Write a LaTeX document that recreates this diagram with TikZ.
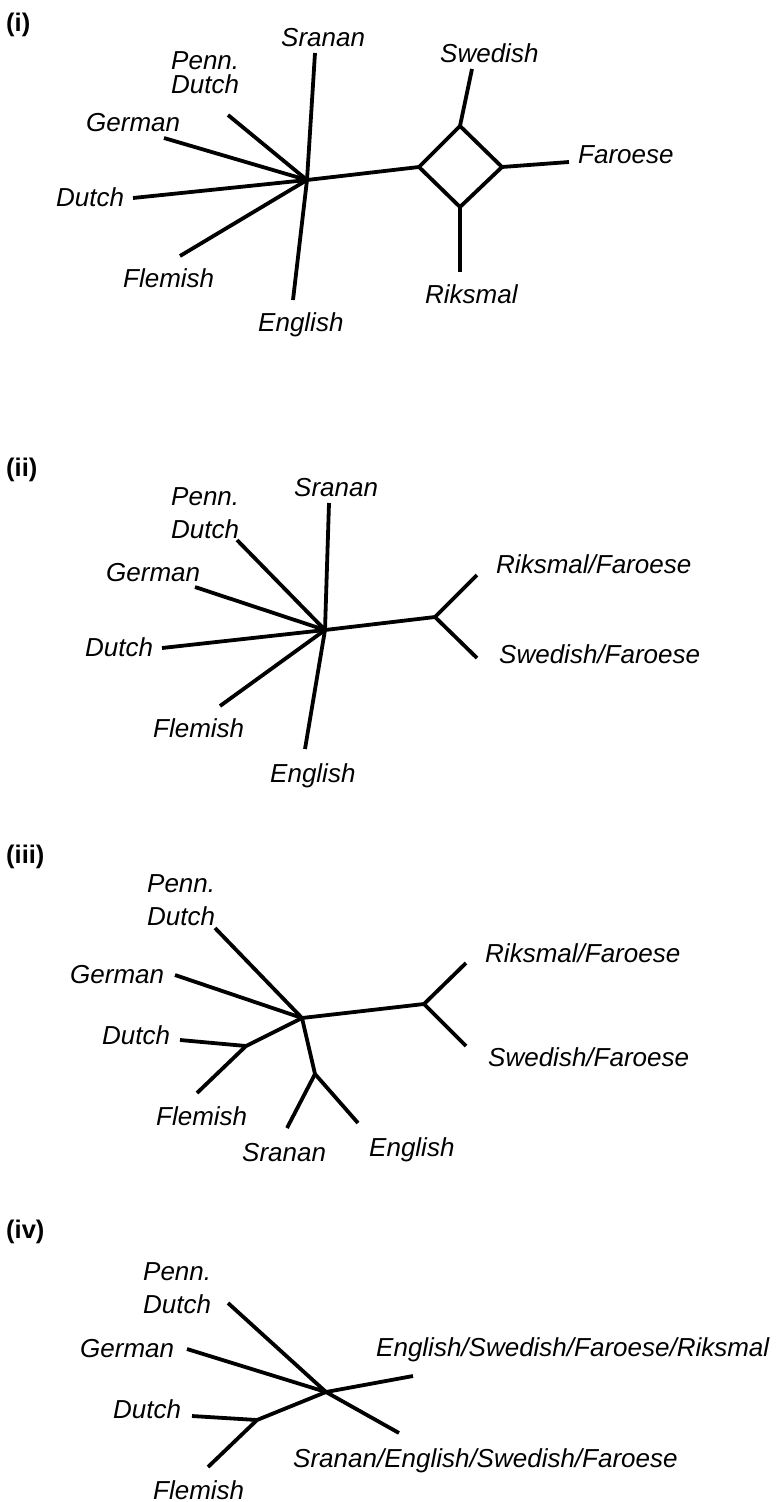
\documentclass[tikz,border=0pt]{standalone}
\usepackage{fontspec}
\setmainfont{Liberation Sans}
\begin{document}
\begin{tikzpicture}[x=1pt,y=-1pt,
  br/.style={line width=3.8pt, line cap=butt, line join=miter},
  lab/.style={font=\itshape\fontsize{26}{26}\selectfont, inner sep=0pt, anchor=base west},
  labpd/.style={font=\itshape\fontsize{26}{33}\selectfont, inner sep=0pt, anchor=south west, align=left},
  labpdi/.style={font=\itshape\fontsize{26}{24}\selectfont, inner sep=0pt, anchor=south west, align=left},
  pan/.style={font=\bfseries\fontsize{25.5}{25.5}\selectfont, inner sep=0pt, anchor=west}]
\useasboundingbox (0,0) rectangle (778,1502);

% ---------------- panel (i)
\node[pan] (pi) at (6,25) {(i)};
\coordinate (h1) at (307,180);
\coordinate (s1) at (315,53);
\coordinate (pd1) at (228,115);
\coordinate (g1) at (164,138);
\coordinate (d1) at (133,198);
\coordinate (f1) at (180,256);
\coordinate (e1) at (293,300);
\coordinate (dl) at (419,167);
\coordinate (dt) at (460,126);
\coordinate (dr) at (502,167);
\coordinate (db) at (460,207);
\coordinate (sw1) at (472,69);
\coordinate (fa1) at (569,162);
\coordinate (ri1) at (460,272);
\draw[br] (h1) -- (s1);
\draw[br] (h1) -- (pd1);
\draw[br] (h1) -- (g1);
\draw[br] (h1) -- (d1);
\draw[br] (h1) -- (f1);
\draw[br] (h1) -- (e1);
\draw[br] (h1) -- (dl);
\draw[br] (dl) -- (dt) -- (dr) -- (db) -- cycle;
\draw[br] (dt) -- (sw1);
\draw[br] (dr) -- (fa1);
\draw[br] (db) -- (ri1);
\node[lab] (ls1) at (281,46) {Sranan};
\node[labpdi] (lpd1) at (171,94) {Penn.\\Dutch};
\node[lab] (lg1) at (86,131) {German};
\node[lab] (ld1) at (56,206) {Dutch};
\node[lab] (lf1) at (123,287) {Flemish};
\node[lab] (le1) at (258,331) {English};
\node[lab] (lsw1) at (440,62) {Swedish};
\node[lab] (lfa1) at (578,163) {Faroese};
\node[lab] (lri1) at (425,303) {Riksmal};

% ---------------- panel (ii)
\node[pan] (pii) at (6,470) {(ii)};
\coordinate (h2) at (325,630);
\coordinate (s2) at (329,503);
\coordinate (pd2) at (237,540);
\coordinate (g2) at (195,587);
\coordinate (d2) at (162,648);
\coordinate (f2) at (220,706);
\coordinate (e2) at (305,749);
\coordinate (k2) at (435,617);
\coordinate (u2) at (477,575);
\coordinate (l2) at (477,658);
\draw[br] (h2) -- (s2);
\draw[br] (h2) -- (pd2);
\draw[br] (h2) -- (g2);
\draw[br] (h2) -- (d2);
\draw[br] (h2) -- (f2);
\draw[br] (h2) -- (e2);
\draw[br] (h2) -- (k2);
\draw[br] (k2) -- (u2);
\draw[br] (k2) -- (l2);
\node[lab] (ls2) at (294,496) {Sranan};
\node[labpd] (lpd2) at (171,539) {Penn.\\Dutch};
\node[lab] (lg2) at (106,581) {German};
\node[lab] (ld2) at (85,656) {Dutch};
\node[lab] (lf2) at (153,737) {Flemish};
\node[lab] (le2) at (270,782) {English};
\node[lab] (lrf2) at (496,573) {Riksmal/Faroese};
\node[lab] (lsf2) at (499,663) {Swedish/Faroese};

% ---------------- panel (iii)
\node[pan] (piii) at (6,857) {(iii)};
\coordinate (h3) at (302,1018);
\coordinate (pd3) at (215,928);
\coordinate (g3) at (175,975);
\coordinate (df3) at (246,1046);
\coordinate (d3) at (180,1040);
\coordinate (f3) at (197,1093);
\coordinate (se3) at (315,1074);
\coordinate (s3) at (287,1128);
\coordinate (e3) at (358,1123);
\coordinate (k3) at (424,1004);
\coordinate (u3) at (466,963);
\coordinate (l3) at (466,1046);
\draw[br] (h3) -- (pd3);
\draw[br] (h3) -- (g3);
\draw[br] (h3) -- (df3);
\draw[br] (df3) -- (d3);
\draw[br] (df3) -- (f3);
\draw[br] (h3) -- (se3);
\draw[br] (se3) -- (s3);
\draw[br] (se3) -- (e3);
\draw[br] (h3) -- (k3);
\draw[br] (k3) -- (u3);
\draw[br] (k3) -- (l3);
\node[labpd] (lpd3) at (147,926) {Penn.\\Dutch};
\node[lab] (lg3) at (70,983) {German};
\node[lab] (ld3) at (102,1044) {Dutch};
\node[lab] (lf3) at (156,1125) {Flemish};
\node[lab] (ls3) at (242,1161) {Sranan};
\node[lab] (le3) at (369,1156) {English};
\node[lab] (lrf3) at (485,962) {Riksmal/Faroese};
\node[lab] (lsf3) at (488,1066) {Swedish/Faroese};

% ---------------- panel (iv)
\node[pan] (piv) at (6,1232) {(iv)};
\coordinate (h4) at (326,1392);
\coordinate (pd4) at (228,1303);
\coordinate (g4) at (187,1349);
\coordinate (ur4) at (413,1376);
\coordinate (lr4) at (399,1433);
\coordinate (df4) at (257,1420);
\coordinate (d4) at (192,1416);
\coordinate (f4) at (208,1467);
\draw[br] (h4) -- (pd4);
\draw[br] (h4) -- (g4);
\draw[br] (h4) -- (ur4);
\draw[br] (h4) -- (lr4);
\draw[br] (h4) -- (df4);
\draw[br] (df4) -- (d4);
\draw[br] (df4) -- (f4);
\node[labpd] (lpd4) at (143,1314) {Penn.\\Dutch};
\node[lab] (lg4) at (80,1357) {German};
\node[lab] (ld4) at (113,1418) {Dutch};
\node[lab] (lf4) at (153,1499) {Flemish};
\node[lab] (lesfr4) at (376,1356) {English/Swedish/Faroese/Riksmal};
\node[lab] (lsesf4) at (293,1467) {Sranan/English/Swedish/Faroese};
\end{tikzpicture}
\end{document}
